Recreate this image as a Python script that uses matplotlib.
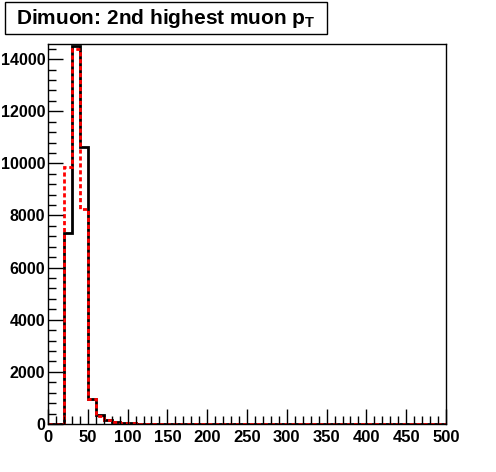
import numpy as np
import matplotlib
matplotlib.use('Agg')
import matplotlib.pyplot as plt
from matplotlib.patches import Rectangle
from matplotlib.ticker import MultipleLocator

plt.rcParams['font.family'] = 'Liberation Sans'
plt.rcParams['font.weight'] = 'bold'
plt.rcParams['mathtext.default'] = 'regular'

# histogram: 2nd highest muon pT, 10 GeV bins from 0 to 500
bin_edges = np.arange(0, 510, 10)
counts_black = [0, 0, 7315, 14500, 10640, 950, 330, 155, 80, 40,
                25, 15, 10, 6, 4, 3, 2, 2, 1, 1,
                1, 1, 0, 0, 0, 0, 0, 0, 0, 0,
                0, 0, 0, 0, 0, 0, 0, 0, 0, 0,
                0, 0, 0, 0, 0, 0, 0, 0, 0, 0]
counts_red = [0, 0, 9850, 14370, 8250, 950, 300, 140, 75, 40,
              22, 14, 9, 6, 4, 3, 2, 1, 1, 1,
              1, 0, 0, 0, 0, 0, 0, 0, 0, 0,
              0, 0, 0, 0, 0, 0, 0, 0, 0, 0,
              0, 0, 0, 0, 0, 0, 0, 0, 0, 0]

fig = plt.figure(figsize=(4.96, 4.72), dpi=100)
ax = fig.add_axes([48 / 496, 48 / 472, 398 / 496, 380 / 472])

ax.stairs(counts_black, bin_edges, color='black', linewidth=2)
ax.stairs(counts_red, bin_edges, color='red', linewidth=2, linestyle=(0, (1.5, 1.0)))

ax.set_xlim(0, 500)
ax.set_ylim(0, 14580)
ax.xaxis.set_major_locator(MultipleLocator(50))
ax.xaxis.set_minor_locator(MultipleLocator(10))
ax.yaxis.set_major_locator(MultipleLocator(2000))
ax.yaxis.set_minor_locator(MultipleLocator(400))
ax.tick_params(which='both', direction='in', top=False, right=False, width=1)
ax.tick_params(which='major', length=11)
ax.tick_params(which='minor', length=6)
ax.tick_params(axis='x', pad=4, labelsize=12)
ax.tick_params(axis='y', pad=2, labelsize=11.5)
for lab in ax.get_xticklabels() + ax.get_yticklabels():
    lab.set_fontweight('bold')
for sp in ax.spines.values():
    sp.set_linewidth(1)

# ROOT style title box
fig.patches.append(Rectangle((5 / 496, 1 - 34 / 472), 322 / 496, 32 / 472,
                             transform=fig.transFigure, facecolor='white',
                             edgecolor='black', linewidth=1))
fig.text(166 / 496, 1 - 18 / 472, 'Dimuon: 2nd highest muon p$_T$',
         ha='center', va='center', fontsize=15, fontweight='bold')

fig.savefig('out.png', dpi=100, facecolor='white')
